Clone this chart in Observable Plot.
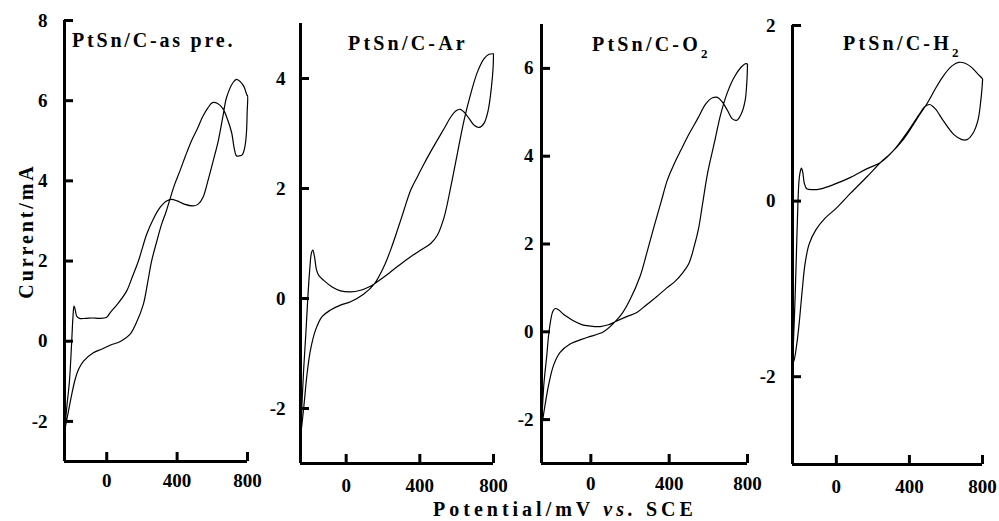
<!DOCTYPE html>
<html><head><meta charset="utf-8">
<script src="https://cdn.jsdelivr.net/npm/d3@7"></script>
<script src="https://cdn.jsdelivr.net/npm/@observablehq/plot@0.6"></script>
<style>
html,body{margin:0;padding:0;background:#fff;overflow:hidden;}
#fig{position:relative;width:999px;height:521px;overflow:hidden;background:#fff;}
#fig svg{position:absolute;top:0;}
.lbl{position:absolute;font-family:"Liberation Serif","Times New Roman",serif;font-weight:bold;font-size:20px;line-height:20px;white-space:nowrap;color:#000;}
.lbl sub{font-size:13px;line-height:0;vertical-align:-7px;}
</style></head><body><div id="fig"></div>
<script>
// ---------- data (potential mV vs SCE, current mA) ----------
const panelTitles = ["PtSn/C-as pre.", "PtSn/C-Ar", "PtSn/C-O", "PtSn/C-H"];
const titleSubscripts = ["", "", "2", "2"];
const xAxisTitle = ["Potential/mV ", "vs.", " SCE"];
const yAxisTitle = "Current/mA";

const potentialTicks = [0, 400, 800];
const currentTicksAsPre = [-2, 0, 2, 4, 6, 8];
const currentTicksAr = [-2, 0, 2, 4];
const currentTicksO2 = [-2, 0, 2, 4, 6];
const currentTicksH2 = [-2, 0, 2];

const potentialRangeAsPre = [-240, 800];
const potentialRangeAr = [-248, 800];
const potentialRangeO2 = [-252, 800];
const potentialRangeH2 = [-240, 800];
const currentRangeAsPre = [-3, 8];
const currentRangeAr = [-3, 5];
const currentRangeO2 = [-3, 7];
const currentRangeH2 = [-3, 2];

const asPreForward = [[-240,-2.25],[-226,-1.6],[-212,-1.0],[-199,0.0],[-192,0.6],[-186,0.875],[-180,0.8],[-170,0.62],[-155,0.57],[-120,0.57],[-80,0.58],[-40,0.57],[0,0.6],[19,0.71],[60,0.92],[113,1.25],[145,1.6],[180,2.0],[227,2.67],[265,3.05],[302,3.33],[340,3.5],[369,3.54],[400,3.5],[440,3.42],[491,3.375],[520,3.42],[548,3.6],[575,4.0],[605,4.5],[634,5.0],[660,5.6],[681,6.08],[719,6.46],[738,6.53],[760,6.47],[780,6.35],[798,6.13]];
const asPreReverse = [[800,6.13],[798,5.7],[794,5.2],[785,4.85],[770,4.65],[750,4.62],[738,4.62],[725,4.8],[710,5.2],[685,5.55],[660,5.8],[630,5.93],[601,5.95],[575,5.82],[545,5.6],[515,5.3],[482,5.0],[450,4.65],[416,4.25],[385,3.9],[359,3.54],[335,3.2],[312,2.92],[285,2.5],[255,2.0],[232,1.45],[208,0.92],[170,0.48],[132,0.17],[80,0.0],[19,-0.1],[-30,-0.2],[-76,-0.29],[-133,-0.5],[-160,-0.7],[-180,-0.96],[-200,-1.35],[-220,-1.8],[-240,-2.25]];

const arForward = [[-248,-2.52],[-239,-1.85],[-230,-1.24],[-219,-0.64],[-209,-0.03],[-198,0.52],[-189,0.82],[-181,0.88],[-172,0.76],[-161,0.52],[-149,0.42],[-122,0.33],[-76,0.21],[-31,0.14],[24,0.12],[78,0.15],[123,0.21],[154,0.27],[205,0.39],[278,0.58],[350,0.76],[405,0.88],[459,1.0],[495,1.15],[532,1.48],[568,2.03],[604,2.64],[640,3.24],[677,3.73],[713,4.12],[749,4.36],[776,4.44],[800,4.45]];
const arReverse = [[800,4.45],[798,4.21],[789,3.85],[771,3.42],[749,3.19],[722,3.11],[695,3.15],[668,3.27],[640,3.39],[619,3.44],[595,3.41],[568,3.3],[532,3.09],[495,2.88],[459,2.67],[423,2.45],[386,2.21],[350,1.97],[314,1.61],[278,1.24],[241,0.88],[205,0.58],[154,0.27],[96,0.08],[24,-0.06],[-31,-0.12],[-85,-0.21],[-131,-0.33],[-167,-0.58],[-194,-0.94],[-212,-1.36],[-230,-1.97],[-248,-2.52]];

const o2Forward = [[-252,-2.2],[-240,-1.2],[-225,-0.54],[-216,-0.09],[-204,0.29],[-194,0.47],[-182,0.53],[-165,0.5],[-140,0.4],[-110,0.31],[-89,0.25],[-50,0.17],[-20,0.14],[20,0.12],[48,0.12],[90,0.16],[124,0.23],[180,0.34],[235,0.44],[280,0.6],[320,0.74],[388,1.0],[430,1.15],[470,1.35],[500,1.55],[528,1.95],[550,2.35],[570,2.9],[596,3.61],[630,4.29],[664,4.97],[698,5.46],[732,5.8],[766,6.02],[791,6.11],[800,6.1]];
const o2Reverse = [[800,6.1],[797,5.72],[788,5.27],[769,4.97],[746,4.82],[723,4.85],[698,5.04],[672,5.23],[647,5.34],[621,5.33],[587,5.19],[545,4.85],[502,4.51],[460,4.14],[426,3.83],[391,3.46],[357,2.93],[323,2.4],[289,1.85],[252,1.27],[201,0.74],[160,0.42],[124,0.23],[65,0.0],[-20,-0.13],[-106,-0.28],[-157,-0.47],[-191,-0.77],[-215,-1.2],[-235,-1.7],[-252,-2.2]];

const h2Forward = [[-240,-1.85],[-233,-1.51],[-225,-1.05],[-218,-0.56],[-211,-0.07],[-204,0.24],[-196,0.35],[-191,0.375],[-184,0.33],[-175,0.2],[-162,0.14],[-131,0.13],[-85,0.14],[-13,0.19],[78,0.27],[169,0.37],[242,0.44],[315,0.58],[387,0.78],[451,0.98],[487,1.08],[511,1.1],[542,1.05],[587,0.91],[642,0.76],[687,0.7],[715,0.7],[747,0.77],[775,0.92],[791,1.15],[800,1.37]];
const h2Reverse = [[800,1.39],[778,1.44],[742,1.52],[705,1.57],[669,1.58],[633,1.54],[587,1.43],[542,1.28],[505,1.14],[442,0.94],[369,0.71],[296,0.54],[242,0.44],[169,0.28],[78,0.09],[0,-0.08],[-64,-0.2],[-113,-0.33],[-149,-0.49],[-171,-0.71],[-187,-1.02],[-202,-1.36],[-216,-1.62],[-231,-1.81],[-240,-1.85]];

// ---------- layout (pixels) ----------
const FONT = '"Liberation Serif", "Times New Roman", serif';
const ML = 40, MR = 15, H = 521, TICK = 9, BASE = 16.75;
const layout = [
  {left: 64,  right: 247, top: 20, bottom: 461, yGap: 17, xGap: 12},
  {left: 300, right: 493, top: 23, bottom: 463, yGap: 15, xGap: 15},
  {left: 541, right: 747, top: 24, bottom: 463, yGap: 8,  xGap: 13},
  {left: 792, right: 982, top: 25, bottom: 464, yGap: 17, xGap: 15}
];
const titlePos = [[72, 47, 2.8], [348, 50, 3.2], [592, 51, 3.2], [843, 50, 3.2]];

const loops = [
  [asPreForward, asPreReverse],
  [arForward, arReverse],
  [o2Forward, o2Reverse],
  [h2Forward, h2Reverse]
];
const xDomains = [potentialRangeAsPre, potentialRangeAr, potentialRangeO2, potentialRangeH2];
const yDomains = [currentRangeAsPre, currentRangeAr, currentRangeO2, currentRangeH2];
const yTicks = [currentTicksAsPre, currentTicksAr, currentTicksO2, currentTicksH2];

const fig = document.getElementById("fig");

loops.forEach(([fwd, rev], i) => {
  const L = layout[i];
  const data = [...fwd, ...rev].map(([e, c]) => ({e, c}));
  const innerW = L.right - L.left, innerH = L.bottom - L.top;
  const [x0, x1] = xDomains[i], [y0, y1] = yDomains[i];
  const yLen = TICK / innerH * (y1 - y0);
  const xLen = TICK / innerW * (x1 - x0);
  const plot = Plot.plot({
    width: ML + innerW + MR,
    height: H,
    marginLeft: ML, marginRight: MR, marginTop: L.top, marginBottom: H - L.bottom,
    style: {background: "transparent", overflow: "visible", fontFamily: FONT, fontWeight: "bold", fontSize: "19px"},
    x: {domain: xDomains[i]},
    y: {domain: yDomains[i]},
    marks: [
      Plot.line(data, {x: "e", y: "c", curve: "catmull-rom", stroke: "black", strokeWidth: 1.2}),
      Plot.ruleX([x0], {stroke: "black", strokeWidth: 3}),
      Plot.ruleY([y0], {stroke: "black", strokeWidth: 3}),
      Plot.ruleX(potentialTicks, {x: d => d, y1: y0, y2: y0 + yLen, stroke: "black", strokeWidth: 3}),
      Plot.ruleY(yTicks[i], {y: d => d, x1: x0, x2: x0 + xLen, stroke: "black", strokeWidth: 3}),
      Plot.axisX({ticks: potentialTicks, tickSize: 0, tickPadding: L.xGap, tickFormat: d => String(d), label: null, fill: "black"}),
      Plot.axisY({ticks: yTicks[i], tickSize: 0, tickPadding: L.yGap, tickFormat: d => String(d), label: null, fill: "black"})
    ]
  });
  plot.style.position = "absolute";
  plot.style.left = (L.left - ML) + "px";
  plot.style.top = "0px";
  fig.appendChild(plot);
});

// ---------- HTML text labels ----------
function addLabel(html, left, baseline, spacing) {
  const d = document.createElement("div");
  d.className = "lbl";
  d.innerHTML = html;
  d.style.left = left + "px";
  d.style.top = (baseline - BASE) + "px";
  d.style.letterSpacing = spacing + "px";
  fig.appendChild(d);
  return d;
}

panelTitles.forEach((t, i) => {
  const [x, y, sp] = titlePos[i];
  addLabel(t + (titleSubscripts[i] ? "<sub>" + titleSubscripts[i] + "</sub>" : ""), x, y, sp);
});

addLabel(xAxisTitle[0].replace(/ /g, "&nbsp;") + "<i>" + xAxisTitle[1] + "</i>" + xAxisTitle[2].replace(/ /g, "&nbsp;"), 433, 516, 4);

const yl = addLabel(yAxisTitle, 0, 0, 2.9);
yl.style.left = "26px";
yl.style.top = "231px";
yl.style.transform = "translate(-50%, -50%) rotate(-90deg)";
</script>
</body></html>
